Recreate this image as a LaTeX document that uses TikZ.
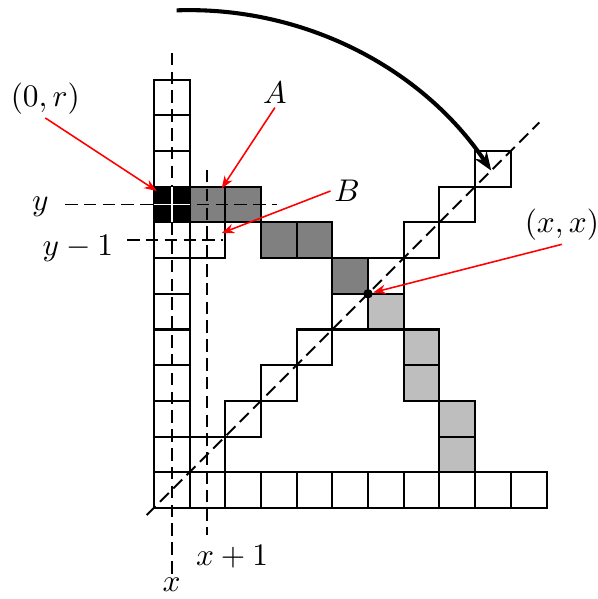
\documentclass[tikz,border=0pt]{standalone}
\usepackage{xcolor}
\usepackage{tikz}
\usetikzlibrary{arrows.meta}
\definecolor{DarkCell}{RGB}{128,128,128}
\definecolor{LightCell}{RGB}{190,190,190}

\begin{document}
\begin{tikzpicture}[x=0.4cm, y=0.4cm,
    cell/.style={draw=black, line width=0.65pt},
    guide/.style={line width=0.6pt, dash pattern=on 4pt off 2pt},
    pointer/.style={red, line width=0.5pt, -{Stealth[length=4pt, width=3pt]}},
    tag/.style={inner sep=1pt}]
    \useasboundingbox (-4.31,-2.55) rectangle (12.44,14.23);

    % Left column and bottom row
    \foreach \j in {0,...,11} \draw[cell, fill=white] (0,\j) rectangle ++(1,1);
    \foreach \i in {1,...,10} \draw[cell, fill=white] (\i,0) rectangle ++(1,1);

    % Staircase along the diagonal
    \foreach \i in {1,...,9} \draw[cell] (\i,\i) rectangle ++(1,1);
    \draw[cell] (1,7) rectangle ++(1,1);

    % Shaded cells
    \draw[cell, fill=black] (0,8) rectangle ++(1,1);
    \foreach \i/\j in {1/8,2/8,3/7,4/7,5/6} \draw[cell, fill=DarkCell] (\i,\j) rectangle ++(1,1);
    \foreach \i/\j in {6/5,7/4,7/3,8/2,8/1} \draw[cell, fill=LightCell] (\i,\j) rectangle ++(1,1);

    % Guide lines
    \coordinate (xtop) at (0.5,12.75);
    \coordinate (xbot) at (0.5,-1.9);
    \coordinate (xonetop) at (1.5,9.47);
    \coordinate (xonebot) at (1.5,-0.76);
    \coordinate (yleft) at (-2.49,8.5);
    \coordinate (yright) at (3.45,8.5);
    \coordinate (yoneleft) at (-0.75,7.5);
    \coordinate (yoneright) at (1.93,7.5);
    \coordinate (diagstart) at (-0.2,-0.2);
    \coordinate (diagend) at (10.8,10.8);
    \draw[guide] (xtop) -- (xbot);
    \draw[guide] (xonetop) -- (xonebot);
    \draw[guide] (yleft) -- (yright);
    \draw[guide] (yoneleft) -- (yoneright);
    \draw[guide] (diagstart) -- (diagend);
    \draw[white, line width=0.6pt] (0.5,8) -- (0.5,9) (0,8.5) -- (1,8.5);

    % Guide labels
    \node[tag] (xlab) at (0.5,-2.16) {$x$};
    \node[tag] (xonelab) at (2.19,-1.37) {$x+1$};
    \node[tag] (ylab) at (-3.18,8.43) {$y$};
    \node[tag] (yonelab) at (-2.13,7.28) {$y-1$};

    % Point on the diagonal
    \node[circle, fill=black, inner sep=0pt, minimum size=3pt] (xx) at (6,6) {};

    % Red pointers
    \node[tag] (orig) at (-3.04,11.47) {$(0,r)$};
    \node[tag] (alab) at (3.39,11.62) {$A$};
    \node[tag] (blab) at (5.41,8.88) {$B$};
    \node[tag] (xxlab) at (11.43,7.93) {$(x,x)$};
    \coordinate (origtip) at (0.08,8.88);
    \coordinate (atip) at (1.9,8.95);
    \coordinate (btip) at (1.9,7.7);
    \draw[pointer] (orig.south) -- (origtip);
    \draw[pointer] (alab.south) -- (atip);
    \draw[pointer] (blab.west) -- (btip);
    \draw[pointer] (xxlab.south) -- (xx);

    % Reflection arc
    \coordinate (arcstart) at (0.64,13.94);
    \draw[line width=1.3pt, -{Stealth[length=6pt, width=4.5pt]}] (arcstart) arc[start angle=92, end angle=34, radius=10.2];
\end{tikzpicture}
\end{document}
